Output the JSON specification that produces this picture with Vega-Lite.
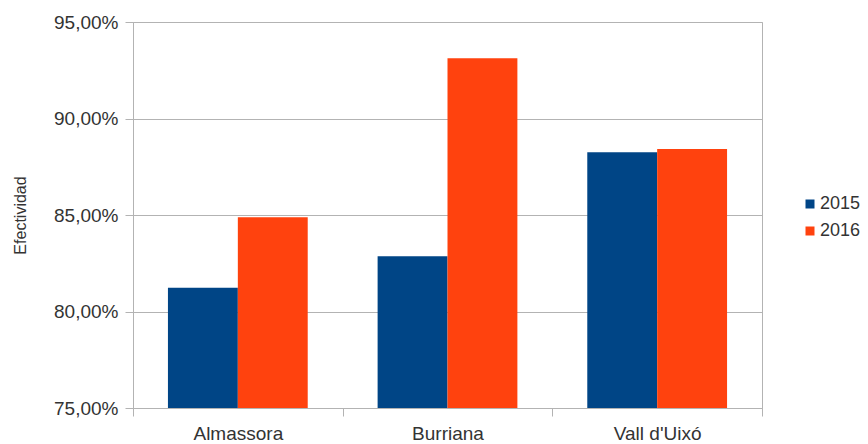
{
  "$schema": "https://vega.github.io/schema/vega-lite/v6.json",
  "width": 629,
  "height": 386,
  "padding": {"left": 133, "top": 22, "right": 106, "bottom": 36},
  "autosize": {"type": "none"},
  "background": "white",
  "config": {
    "font": "Liberation Sans",
    "view": {"stroke": "#b3b3b3", "strokeWidth": 1}
  },
  "data": {
    "values": [
      {"municipio": "Almassora", "anio": "2015", "efectividad": 81.23},
      {"municipio": "Almassora", "anio": "2016", "efectividad": 84.88},
      {"municipio": "Burriana", "anio": "2015", "efectividad": 82.86},
      {"municipio": "Burriana", "anio": "2016", "efectividad": 93.12},
      {"municipio": "Vall d'Uixó", "anio": "2015", "efectividad": 88.25},
      {"municipio": "Vall d'Uixó", "anio": "2016", "efectividad": 88.42}
    ]
  },
  "mark": {"type": "bar", "clip": true},
  "encoding": {
    "x": {
      "field": "municipio",
      "type": "nominal",
      "sort": null,
      "scale": {"paddingInner": 0, "paddingOuter": 0},
      "axis": {
        "title": null,
        "labelAngle": 0,
        "labelFontSize": 19,
        "labelColor": "#333333",
        "labelPadding": 8,
        "tickBand": "extent",
        "tickSize": 8,
        "tickColor": "#b3b3b3",
        "domainColor": "#b3b3b3",
        "grid": false
      }
    },
    "xOffset": {
      "field": "anio",
      "type": "nominal",
      "scale": {"paddingInner": 0, "paddingOuter": 0.5}
    },
    "y": {
      "field": "efectividad",
      "type": "quantitative",
      "scale": {"domain": [75, 95], "zero": false, "nice": false},
      "axis": {
        "title": "Efectividad",
        "titleFontSize": 16,
        "titleFontWeight": "normal",
        "titleColor": "#333333",
        "titlePadding": 25,
        "values": [75, 80, 85, 90, 95],
        "labelExpr": "replace(format(datum.value, '.2f'), '.', ',') + '%'",
        "labelFontSize": 19,
        "labelColor": "#333333",
        "labelPadding": 7,
        "tickSize": 8,
        "tickColor": "#b3b3b3",
        "domainColor": "#b3b3b3",
        "gridColor": "#b3b3b3"
      }
    },
    "color": {
      "field": "anio",
      "type": "nominal",
      "scale": {"domain": ["2015", "2016"], "range": ["#004586", "#ff420e"]},
      "legend": {
        "title": null,
        "orient": "none",
        "legendX": 668,
        "legendY": 173,
        "symbolType": "square",
        "symbolSize": 81,
        "symbolStrokeWidth": 0,
        "labelFontSize": 18,
        "labelColor": "#333333",
        "labelOffset": 1,
        "rowPadding": 9
      }
    }
  }
}
